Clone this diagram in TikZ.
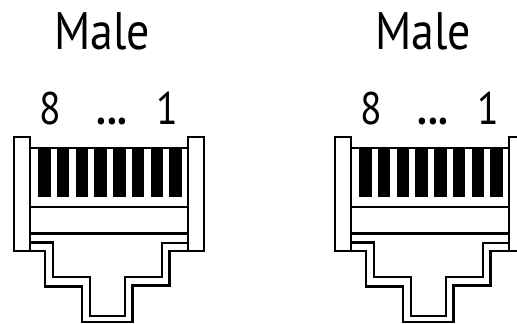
\documentclass[tikz,border=0pt]{standalone}
\usepackage{fontspec}
\setmainfont{PT Sans}[FakeStretch=0.87]
\usetikzlibrary{positioning}

\tikzset{
  ttl/.style={anchor=base, inner sep=0pt, font=\fontsize{30}{30}\selectfont},
  pin/.style={anchor=base, inner sep=0pt, font=\fontsize{26}{26}\selectfont},
  tab/.style={draw, fill=white},
  contact/.style={fill=black, draw=none}
}

\begin{document}
\begin{tikzpicture}[x=0.02cm, y=-0.02cm, line width=1.35pt]
\useasboundingbox (0,0) rectangle (517,324);

\foreach \k/\dx in {a/0, b/321}{
  \begin{scope}[xshift=\dx*0.02cm]
    % labels
    \node[ttl] (male\k) at (102,50) {Male};
    \node[pin] (eight\k) at (50,125) {8};
    \node[pin] (dots\k) at (112,125) {\textbf{...}};
    \node[pin] (one\k) at (167,125) {1};

    % side tabs and body
    \draw[tab] (14.3,137) rectangle (30,250.7);
    \draw[tab] (188,137) rectangle (204,250.7);
    \draw (30,148) -- (188,148);
    \draw (30,207) -- (188,207);
    \draw (30,233.5) -- (188,233.5);
    \foreach \i in {0,...,7}
      \fill[contact] (38.3+18.7*\i,148) rectangle ++(12.4,49);

    % latch, double outline
    \draw (30,242.5) -| (52.7,277) -| (89.8,316) -| (124.8,277) -| (161.9,243) -- (188,243);
    \draw (30,250.7) -| (45,286.5) -| (82,322.3) -| (132.6,285.5) -| (169.6,250.7) -- (188,250.7);
  \end{scope}
}
\end{tikzpicture}
\end{document}
